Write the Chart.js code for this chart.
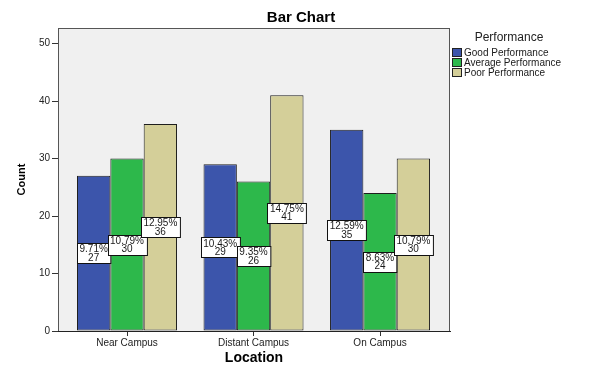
<!DOCTYPE html>
<html>
<head>
<meta charset="utf-8">
<script src="https://cdn.jsdelivr.net/npm/chart.js@4.4.1/dist/chart.umd.min.js"></script>
<style>
  html, body { margin: 0; padding: 0; background: #ffffff; }
  #wrap { width: 602px; height: 377px; }
</style>
</head>
<body>
<div id="wrap"><canvas id="c" width="602" height="377"></canvas></div>
<script>
// ---- data ----
const categories = ["Near Campus", "Distant Campus", "On Campus"];
const seriesNames = ["Good Performance", "Average Performance", "Poor Performance"];
const goodCounts = [27, 29, 35];
const averageCounts = [30, 26, 24];
const poorCounts = [36, 41, 30];
const goodPercents = ["9.71%", "10.43%", "12.59%"];
const averagePercents = ["10.79%", "9.35%", "8.63%"];
const poorPercents = ["12.95%", "14.75%", "10.79%"];
const yTickValues = [0, 10, 20, 30, 40, 50];

const seriesColors = ["#3c55ab", "#2db84b", "#d4cf99"];
const allCounts = [goodCounts, averageCounts, poorCounts];
const allPercents = [goodPercents, averagePercents, poorPercents];

const FONT = "'Liberation Sans', Arial, sans-serif";

const datasets = allCounts.map((vals, si) => ({
  label: seriesNames[si],
  data: vals.map((v, i) => ({ x: i, y: v })),
  percents: allPercents[si],
  backgroundColor: seriesColors[si],
  borderColor: "#1e1e1e",
  borderWidth: 1,
  borderSkipped: false,
  categoryPercentage: 0.7905,
  barPercentage: 1.0
}));

const framePlugin = {
  id: "frame",
  beforeDatasetsDraw(chart) {
    const { ctx, chartArea: a } = chart;
    ctx.save();
    ctx.fillStyle = "#f0f0f0";
    ctx.fillRect(a.left, a.top, a.right - a.left, a.bottom - a.top);
    ctx.restore();
  },
  afterDatasetsDraw(chart) {
    const { ctx, chartArea: a } = chart;
    ctx.save();
    ctx.strokeStyle = "#555555";
    ctx.lineWidth = 1;
    ctx.strokeRect(a.left + 0.5, a.top + 0.5, a.right - a.left - 1, a.bottom - a.top);
    ctx.strokeStyle = "#222222";
    ctx.beginPath();
    ctx.moveTo(a.left, a.bottom + 0.5);
    ctx.lineTo(a.right, a.bottom + 0.5);
    ctx.stroke();

    // value labels: percent + count, centred at mid-height of each bar
    ctx.font = "10px " + FONT;
    ctx.textAlign = "center";
    ctx.textBaseline = "middle";
    chart.data.datasets.forEach((ds, di) => {
      const meta = chart.getDatasetMeta(di);
      meta.data.forEach((bar, i) => {
        const pct = ds.percents[i];
        const cnt = String(ds.data[i].y);
        const w = Math.max(ctx.measureText(pct).width, ctx.measureText(cnt).width) + 5;
        const h = 20;
        const cx = bar.x;
        const cy = (bar.y + bar.base) / 2;
        const x0 = Math.round(cx - w / 2) + 0.5;
        const y0 = Math.round(cy - h / 2) + 0.5;
        ctx.fillStyle = "#ffffff";
        ctx.fillRect(x0, y0, w, h);
        ctx.strokeStyle = "#111111";
        ctx.strokeRect(x0, y0, w, h);
        ctx.fillStyle = "#1a1a1a";
        ctx.fillText(pct, cx, cy - 3.6);
        ctx.fillText(cnt, cx, cy + 4.8);
      });
    });
    ctx.restore();
  },
  afterDraw(chart) {
    // legend to the right of the plot
    const { ctx, chartArea: a } = chart;
    ctx.save();
    ctx.fillStyle = "#222222";
    ctx.textBaseline = "middle";
    ctx.textAlign = "center";
    ctx.font = "12px " + FONT;
    ctx.fillText("Performance", 509, 38);
    ctx.textAlign = "left";
    ctx.font = "10px " + FONT;
    chart.data.datasets.forEach((ds, i) => {
      const yc = 53 + i * 10;
      ctx.fillStyle = ds.backgroundColor;
      ctx.fillRect(a.right + 2.5, yc - 4.5, 9, 8);
      ctx.strokeStyle = "#222222";
      ctx.lineWidth = 1;
      ctx.strokeRect(a.right + 2.5, yc - 4.5, 9, 8);
      ctx.fillStyle = "#1a1a1a";
      ctx.fillText(ds.label, a.right + 14, yc);
    });
    ctx.restore();
  }
};

new Chart(document.getElementById("c"), {
  type: "bar",
  data: { datasets },
  plugins: [framePlugin],
  options: {
    responsive: false,
    animation: false,
    layout: { padding: { left: 0, right: 0, top: 0, bottom: 0 } },
    plugins: {
      legend: { display: false },
      tooltip: { enabled: false },
      title: {
        display: true,
        text: "Bar Chart",
        color: "#000000",
        font: { family: FONT, size: 15, weight: "bold" },
        padding: { top: 9, bottom: 1 }
      }
    },
    scales: {
      x: {
        type: "linear",
        offset: false,
        min: -0.5455,
        max: 2.553,
        afterBuildTicks(scale) { scale.ticks = categories.map((c, i) => ({ value: i })); },
        afterFit(scale) { scale.height = 46; },
        ticks: {
          callback: (v) => categories[v],
          color: "#222222",
          font: { family: FONT, size: 10 },
          padding: 1,
          maxRotation: 0,
          autoSkip: false
        },
        grid: { display: true, offset: false, drawOnChartArea: false, drawTicks: true, tickLength: 5, color: "#333333" },
        border: { display: true, color: "#222222" },
        title: {
          display: true,
          text: "Location",
          color: "#000000",
          font: { family: FONT, size: 14, weight: "bold" },
          padding: { top: 0, bottom: 10.6 }
        }
      },
      y: {
        min: 0,
        max: 52.7,
        afterBuildTicks(scale) { scale.ticks = yTickValues.map(v => ({ value: v })); },
        afterFit(scale) { scale.width = 58; },
        ticks: {
          color: "#222222",
          font: { family: FONT, size: 10 },
          padding: 2
        },
        grid: { display: true, drawOnChartArea: false, drawTicks: true, tickLength: 6, color: "#333333" },
        border: { display: true, color: "#555555" },
        title: {
          display: true,
          text: "Count",
          color: "#000000",
          font: { family: FONT, size: 11, weight: "bold" },
          padding: { top: 15.4, bottom: 0 }
        }
      },
      legendSpace: {
        type: "linear",
        position: "right",
        display: true,
        afterFit(scale) { scale.width = 152; },
        ticks: { display: false },
        grid: { display: false, drawTicks: false },
        border: { display: false },
        title: { display: false }
      }
    }
  }
});
</script>
</body>
</html>
